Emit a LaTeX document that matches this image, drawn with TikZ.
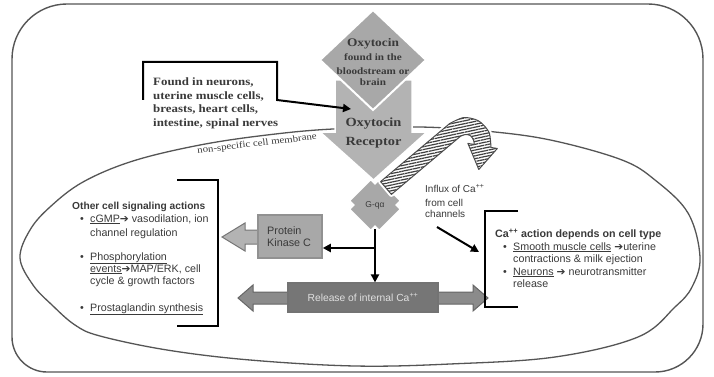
\documentclass[tikz,border=0pt]{standalone}
\usepackage{fontspec}
\setmainfont{Liberation Serif}
\setsansfont{Liberation Sans}
\newfontfamily\serifw[FakeStretch=1.15]{Liberation Serif}
\newfontfamily\dejavu{DejaVu Sans}
\usetikzlibrary{arrows.meta,patterns.meta,calc}
\definecolor{txt}{HTML}{3A3A3A}
\definecolor{frame}{HTML}{555555}
\definecolor{lightg}{HTML}{B3B3B3}
\definecolor{midg}{HTML}{A8A8A8}
\definecolor{darkg}{HTML}{767676}
\newcommand{\myarr}{{\dejavu\bfseries ➔}}
\tikzset{
  blk/.style={line width=2pt, black},
  arr/.style={blk, -{Triangle[length=8pt,width=8pt]}},
  sline/.style={anchor=base west, inner sep=0pt, text=txt, font=\sffamily\fontsize{10.7}{12.5}\selectfont},
  stitle/.style={sline, font=\sffamily\bfseries\fontsize{10.7}{12.5}\selectfont},
  fline/.style={anchor=base west, inner sep=0pt, text=txt, font=\serifw\bfseries\fontsize{11.2}{13}\selectfont},
  dline/.style={anchor=base, inner sep=0pt, text=txt, font=\serifw\bfseries\fontsize{9.7}{12}\selectfont},
}
\begin{document}
\begin{tikzpicture}[x=1pt,y=-1pt]
\useasboundingbox (0,0) rectangle (714,377);
\fill[white] (0,0) rectangle (714,377);

% outer frame
\draw[frame, line width=1.4pt] (12,59) .. controls (12,28.6) and (36.6,4) .. (67,4)
  -- (648,4) .. controls (678.4,4) and (703,28.6) .. (703,59)
  -- (703,324) .. controls (703,350.5) and (681.5,372) .. (655,372)
  -- (47,372) .. controls (27.7,372) and (12,356.3) .. (12,337) -- cycle;

% membrane
\draw[frame, line width=1.3pt] plot[smooth cycle, tension=0.6] coordinates {
 (20,258) (30,230) (50,207) (83,182) (133,161) (200,145) (267,135) (333,129)
 (420,127) (495,132) (555,141) (622,160) (655,180) (688,213) (700,257)
 (692,287) (675,307) (638,337) (555,357) (450,364) (355,366) (250,360)
 (167,350) (100,336) (75,325) (52,305) (33,285)};
\node[rotate=6.8, inner sep=0pt, text=txt, font=\serifw\fontsize{9.4}{11}\selectfont] (memb) at (257,144) {non-specific cell membrane};

% receptor arrow
\draw[fill=lightg, draw=white, line width=1.5pt] (335,80) -- (412,80) -- (412,132) -- (427,132) -- (373.5,180) -- (320,132) -- (335,132) -- cycle;
\node[anchor=base, inner sep=0pt, text=txt, font=\serifw\bfseries\fontsize{12.5}{14}\selectfont] (rec1) at (373.5,127) {Oxytocin};
\node[anchor=base, inner sep=0pt, text=txt, font=\serifw\bfseries\fontsize{12.5}{14}\selectfont] (rec2) at (373.5,146) {Receptor};

% oxytocin diamond
\draw[fill=midg, draw=white, line width=2pt] (373,10) -- (426,60) -- (373,110) -- (320,60) -- cycle;
\node[dline, font=\serifw\bfseries\fontsize{11.6}{13}\selectfont] (ox1) at (373,46.5) {Oxytocin};
\node[dline] (ox2) at (373,60.5) {found in the};
\node[dline] (ox3) at (373,74.5) {bloodstream or};
\node[dline] (ox4) at (373,85.5) {brain};

% G-q alpha
\coordinate (gq) at (375,205);
\begin{scope}[shift={(gq)}, rotate=45]
\draw[fill=midg, draw=white, line width=1.5pt] (21,15) -- (15,15) -- (15,21) -- (-15,21) -- (-15,15) -- (-21,15) -- (-21,-15) -- (-15,-15) -- (-15,-21) -- (15,-21) -- (15,-15) -- (21,-15) -- cycle;
\end{scope}
\node[inner sep=0pt, text=txt, font=\sffamily\fontsize{8.5}{10}\selectfont] (gql) at (gq) {G-qα};

% hatched influx arrow
\def\influxpath{(380.6,181.6) -- (449.6,123.6) -- plot[smooth] coordinates {(449.6,123.6) (463.7,117.6) (478.6,120.9) (489.0,132.3) (490.9,147.4)} -- (497.3,148.5) -- (478.8,169.5) -- (467.9,143.4) -- (474.3,144.5) -- plot[smooth] coordinates {(474.3,144.5) (473.6,140.3) (470.4,135.6) (465.2,134.5) (460.3,136.4)} -- (391.4,194.4) -- cycle}
\draw[white, line width=5pt, line join=round] \influxpath;
\fill[white] \influxpath;
\path[pattern={Lines[angle=12,distance=2.8pt,line width=1.2pt]}, pattern color=black!75] \influxpath;
\draw[black!70, line width=1pt, line join=round] \influxpath;

% found in ... bracket
\coordinate (fa) at (143,100);
\coordinate (fb) at (143,62);
\coordinate (fc) at (277,62);
\coordinate (fd) at (277,100);
\coordinate (rec) at (351,109);
\draw[arr, line join=miter] (fa) -- (fb) -- (fc) -- (fd) -- (rec);
\node[fline] (f1) at (153,86) {Found in neurons,};
\node[fline] (f2) at (153,99.3) {uterine muscle cells,};
\node[fline] (f3) at (153,112.6) {breasts, heart cells,};
\node[fline] (f4) at (153,126) {intestine, spinal nerves};

% protein kinase C
\draw[fill=lightg, draw=darkg, line width=1pt] (262,230) -- (245,230) -- (245,223) -- (222,237) -- (245,251) -- (245,244) -- (262,244) -- cycle;
\node[draw=darkg!80, fill=midg, line width=1.5pt, minimum width=64pt, minimum height=43pt, inner sep=0pt] (pkc) at (290,236.5) {};
\node[sline, font=\sffamily\fontsize{10.8}{12.5}\selectfont] (pk1) at (267,234) {Protein};
\node[sline, font=\sffamily\fontsize{10.8}{12.5}\selectfont] (pk2) at (267,246) {Kinase C};

% release of internal Ca
\draw[fill=darkg!85, draw=black!60, line width=1pt] (253,292) -- (473,292) -- (473,285) -- (488,298) -- (473,311) -- (473,304) -- (253,304) -- (253,311) -- (238,298) -- (253,285) -- cycle;
\node[draw=black!55, fill=darkg, line width=1.2pt, minimum width=150pt, minimum height=29pt, inner sep=0pt, text=black!12, font=\sffamily\fontsize{10.3}{12}\selectfont] (rel) at (363,297.5) {Release of internal Ca\textsuperscript{++}};

% signalling arrows from G-q alpha
\coordinate (gqb) at (375,229);
\coordinate (br) at (375,248);
\draw[arr] (gqb) -- (gqb |- rel.north);
\draw[arr] (br) -- (br -| pkc.east);

% left bracket and text
\coordinate (la) at (177,180);
\coordinate (lb) at (218,180);
\coordinate (lc) at (218,326);
\coordinate (ld) at (177,326);
\draw[blk, line join=miter] (la) -- (lb) -- (lc) -- (ld);
\node[stitle, font=\sffamily\bfseries\fontsize{10.2}{12.5}\selectfont] (lt) at (72,209) {Other cell signaling actions};
\node[sline] (lb1) at (80,222) {•};
\node[sline] (l1a) at (90,222) {\underline{cGMP}\myarr{} vasodilation, ion};
\node[sline] (l1b) at (90,236) {channel regulation};
\node[sline] (lb2) at (80,260) {•};
\node[sline] (l2a) at (90,260) {\underline{Phosphorylation}};
\node[sline] (l2b) at (90,272) {\underline{events}\myarr MAP/ERK, cell};
\node[sline] (l2c) at (90,284) {cycle \& growth factors};
\node[sline] (lb3) at (80,311) {•};
\node[sline] (l3a) at (90,311) {\underline{Prostaglandin synthesis}};

% influx text and arrow
\node[sline, font=\sffamily\fontsize{10}{12}\selectfont] (in1) at (425,192) {Influx of Ca\textsuperscript{++}};
\node[sline, font=\sffamily\fontsize{10}{12}\selectfont] (in2) at (425,206) {from cell};
\node[sline, font=\sffamily\fontsize{10}{12}\selectfont] (in3) at (425,217) {channels};
\coordinate (ina) at (437,227);
\coordinate (inb) at (479,252);
\draw[arr] (ina) -- (inb);

% right bracket and text
\coordinate (ra) at (518,211);
\coordinate (rb) at (485,211);
\coordinate (rc) at (485,307);
\coordinate (rd) at (518,307);
\draw[blk, line join=miter] (ra) -- (rb) -- (rc) -- (rd);
\node[stitle] (rt) at (495,237) {Ca\textsuperscript{++} action depends on cell type};
\node[sline] (rb1) at (503,250) {•};
\node[sline] (r1a) at (513,250) {\underline{Smooth muscle cells} \myarr uterine};
\node[sline] (r1b) at (513,262) {contractions \& milk ejection};
\node[sline] (rb2) at (503,275) {•};
\node[sline] (r2a) at (513,275) {\underline{Neurons} \myarr{} neurotransmitter};
\node[sline] (r2b) at (513,287) {release};
\end{tikzpicture}
\end{document}
